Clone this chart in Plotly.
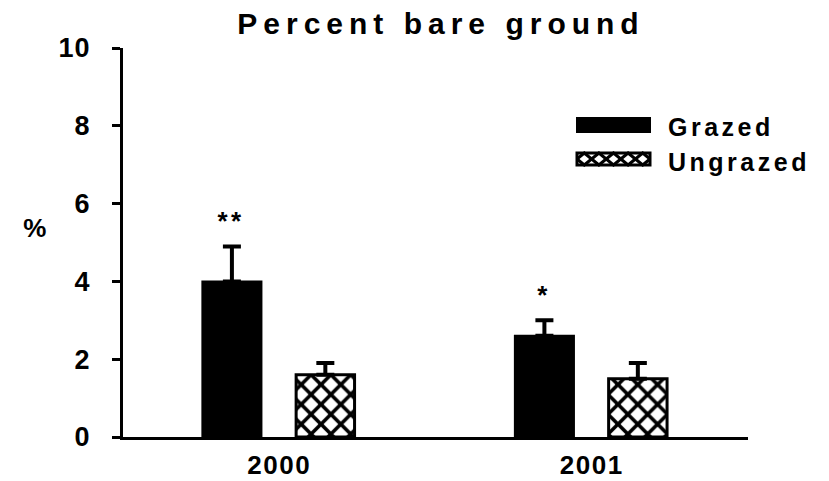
import plotly.graph_objects as go

# ---- data ----
years = ["2000", "2001"]
grazed = [4.0, 2.6]
grazed_err = [0.9, 0.4]
ungrazed = [1.6, 1.5]
ungrazed_err = [0.3, 0.4]
signif = ["**", "*"]
series_names = ["Grazed", "Ungrazed"]
y_ticks = [0, 2, 4, 6, 8, 10]

FONT = "Liberation Sans, Arial, sans-serif"
W, H = 829, 481
L, R, T, B = 123, 748, 48, 437

def px_x(p):
    return (p - L) / (R - L)

def px_y(p):
    return (B - p) / (B - T)

GR_OFF, GR_W = -0.246, 0.189
UN_OFF, UN_W = 0.054, 0.187

fig = go.Figure()
fig.add_trace(go.Bar(
    x=years, y=grazed, name=series_names[0],
    offset=GR_OFF, width=GR_W,
    marker=dict(color="black", line=dict(color="black", width=2)),
    error_y=dict(type="data", symmetric=False, array=grazed_err,
                 arrayminus=[0] * len(grazed_err),
                 color="black", thickness=4, width=9),
    showlegend=False,
))
fig.add_trace(go.Bar(
    x=years, y=ungrazed, name=series_names[1],
    offset=UN_OFF, width=UN_W,
    marker=dict(color="white", line=dict(color="black", width=3),
                pattern=dict(shape="x", fgcolor="black", bgcolor="white",
                             fgopacity=1, size=14, solidity=0.45)),
    error_y=dict(type="data", symmetric=False, array=ungrazed_err,
                 arrayminus=[0] * len(ungrazed_err),
                 color="black", thickness=4, width=9),
    showlegend=False,
))

annotations = []
# significance stars above grazed bars
for i, (v, e, s) in enumerate(zip(grazed, grazed_err, signif)):
    annotations.append(dict(
        x=i + GR_OFF + GR_W / 2, y=v + e, xref="x", yref="y",
        text=s, showarrow=False, xanchor="center", yanchor="bottom",
        yshift=8, font=dict(family=FONT, size=26, color="black", weight="bold")))

# y axis label (horizontal)
annotations.append(dict(
    x=px_x(36), y=px_y(228), xref="paper", yref="paper", text="%",
    showarrow=False, xanchor="center", yanchor="middle",
    font=dict(family=FONT, size=26, color="black", weight="bold")))

# custom legend
shapes = []
sw_x0, sw_x1 = 577, 650
leg_rows = [(118, 132), (153, 165)]
text_centers = [127, 162]
for name, yc in zip(series_names, text_centers):
    annotations.append(dict(
        x=px_x(666), y=px_y(yc), xref="paper", yref="paper",
        text=name, showarrow=False, xanchor="left", yanchor="middle", align="left",
        font=dict(family=FONT, size=25, color="black", weight="bold")))

# grazed swatch
y0, y1 = leg_rows[0]
shapes.append(dict(type="rect", xref="paper", yref="paper",
                   x0=px_x(sw_x0), x1=px_x(sw_x1), y0=px_y(y1), y1=px_y(y0),
                   fillcolor="black", line=dict(color="black", width=2)))
# ungrazed swatch: crosshatch row
y0, y1 = leg_rows[1]
ym = (y0 + y1) / 2
nd = 5
w = (sw_x1 - sw_x0) / nd
centers = [sw_x0 + w / 2 + k * w for k in range(nd)]
for flip in (0, 1):
    pts = [(sw_x0, ym)]
    for k, c in enumerate(centers):
        pts.append((c, y0 if (k + flip) % 2 == 0 else y1))
    pts.append((sw_x1, ym))
    path = "M " + " L ".join(f"{px_x(a):.5f},{px_y(b):.5f}" for a, b in pts)
    shapes.append(dict(type="path", xref="paper", yref="paper", path=path,
                       line=dict(color="black", width=3)))
shapes.append(dict(type="rect", xref="paper", yref="paper",
                   x0=px_x(sw_x0), x1=px_x(sw_x1), y0=px_y(y1), y1=px_y(y0),
                   fillcolor="rgba(0,0,0,0)", line=dict(color="black", width=3)))

fig.update_layout(
    width=W, height=H,
    margin=dict(l=L, r=W - R, t=T, b=H - B, pad=0, autoexpand=False),
    paper_bgcolor="white", plot_bgcolor="white",
    barmode="overlay",
    title=dict(text="Percent bare ground", x=441 / W, xref="container",
               xanchor="center", y=1 - 23.5 / H, yref="container", yanchor="middle",
               font=dict(family=FONT, size=30, color="black", weight="bold")),
    xaxis=dict(type="category", range=[-0.5, 1.5], showline=True, linewidth=3,
               linecolor="black", ticks="", showgrid=False, zeroline=False,
               automargin=False,
               tickfont=dict(family=FONT, size=26, color="black", weight="bold"),
               ticklabelstandoff=3),
    yaxis=dict(range=[0, 10], tickvals=y_ticks, showline=True, linewidth=3,
               linecolor="black", ticks="outside", ticklen=8, tickwidth=3,
               tickcolor="black", showgrid=False, zeroline=False,
               automargin=False,
               tickfont=dict(family=FONT, size=27, color="black", weight="bold"),
               ticklabelstandoff=16),
    annotations=annotations,
    shapes=shapes,
    showlegend=False,
)

css = (".gtitle{letter-spacing:6px}"
       ".xtick text{letter-spacing:1.5px}"
       ".ytick text{letter-spacing:1px}"
       ".annotation-text{letter-spacing:3.5px}")
post = ("var s=document.createElement('style');s.textContent=" + repr(css) +
        ";document.head.appendChild(s);")

fig.write_html("out.html", post_script=post)
